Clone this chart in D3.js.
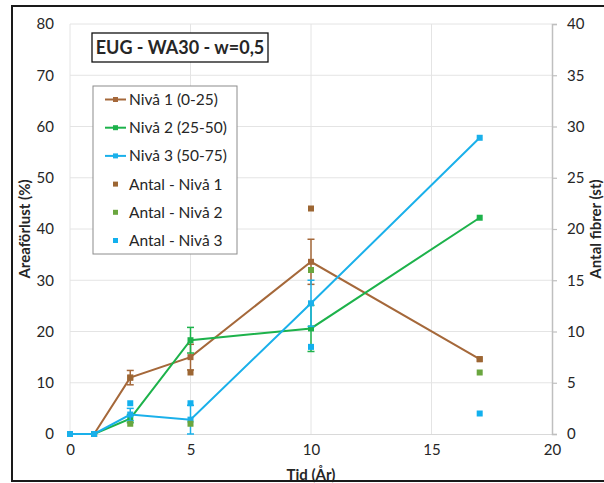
<!DOCTYPE html>
<html>
<head>
<meta charset="utf-8">
<script src="https://cdn.jsdelivr.net/npm/d3@7"></script>
<style>
  body { margin: 0; background: white; }
  text { font-family: Lato, "Liberation Sans", sans-serif; fill: #262626; }
</style>
</head>
<body>
<script>
// data
const years = [0, 1, 2.5, 5, 10, 17]
const niva1 = [0, 0, 11, 15, 33.6, 14.6]
const niva2 = [0, 0, 3, 18.3, 20.6, 42.2]
const niva3 = [0, 0, 3.8, 2.8, 25.5, 57.8]
const err1 = [0, 0, 1.4, 2.5, 4.4, 0]
const err2 = [0, 0, 0.8, 2.5, 4.5, 0]
const err3 = [0, 0, 1.2, 2.8, 4.5, 0]

const antalYears = [2.5, 5, 10, 17]
const antal1 = [5.5, 6, 22, 7.3]
const antal2 = [1, 1, 16, 6]
const antal3 = [3, 3, 8.5, 2]

const xTicks = [0, 5, 10, 15, 20]
const yLeftTicks = [0, 10, 20, 30, 40, 50, 60, 70, 80]
const yRightTicks = [0, 5, 10, 15, 20, 25, 30, 35, 40]

const title = "EUG - WA30 - w=0,5"
const lineNames = ["Nivå 1 (0-25)", "Nivå 2 (25-50)", "Nivå 3 (50-75)"]
const antalNames = ["Antal - Nivå 1", "Antal - Nivå 2", "Antal - Nivå 3"]
const lineColors = ["#a5683a", "#1db24b", "#1ab0ea"]
const antalColors = ["#9c6633", "#6aa63f", "#12b0ee"]

const w = 604
const h = 483
const pLeft = 70, pRight = 552, pTop = 24, pBottom = 434

const xScale = d3.scaleLinear().domain([0, 20]).range([pLeft, pRight])
const yLeft = d3.scaleLinear().domain([0, 80]).range([pBottom, pTop])
const yRight = d3.scaleLinear().domain([0, 40]).range([pBottom, pTop])

const svg = d3.select("body").append("svg")
  .attr("width", w)
  .attr("height", h)

svg.append("rect").attr("width", w).attr("height", h).attr("fill", "white")

// gridlines
svg.append("g").selectAll("line").data(yLeftTicks.slice(1)).enter().append("line")
  .attr("x1", pLeft).attr("x2", pRight)
  .attr("y1", d => yLeft(d)).attr("y2", d => yLeft(d))
  .attr("stroke", "#e4e4e4").attr("stroke-width", 1)
svg.append("g").selectAll("line").data(xTicks.slice(0, -1)).enter().append("line")
  .attr("x1", d => xScale(d)).attr("x2", d => xScale(d))
  .attr("y1", pTop).attr("y2", pBottom)
  .attr("stroke", "#e4e4e4").attr("stroke-width", 1)

// axes
const xAxis = d3.axisBottom(xScale).tickValues(xTicks).tickSize(0).tickPadding(10)
const leftAxis = d3.axisLeft(yLeft).tickValues(yLeftTicks).tickSize(0).tickPadding(16)
const rightAxis = d3.axisRight(yRight).tickValues(yRightTicks).tickSize(5).tickPadding(10)

const gx = svg.append("g").attr("transform", "translate(0," + pBottom + ")").call(xAxis)
gx.select(".domain").attr("stroke", "#d9d9d9").attr("stroke-width", 1.2)
const gl = svg.append("g").attr("transform", "translate(" + pLeft + ",0)").call(leftAxis)
gl.select(".domain").remove()
const gr = svg.append("g").attr("transform", "translate(" + pRight + ",0)").call(rightAxis)
gr.select(".domain").attr("stroke", "#bfbfbf").attr("stroke-width", 1.5)
gr.selectAll(".tick line").attr("stroke", "#bfbfbf").attr("stroke-width", 1.2)
svg.selectAll(".tick text").style("font-size", "15px").attr("fill", "#262626")

// axis titles
svg.append("text")
  .attr("transform", "translate(30," + ((pTop + pBottom) / 2) + ") rotate(-90)")
  .attr("text-anchor", "middle")
  .style("font-size", "15px").style("font-weight", "bold")
  .text("Areaförlust (%)")
svg.append("text")
  .attr("transform", "translate(601," + ((pTop + pBottom) / 2) + ") rotate(-90)")
  .attr("text-anchor", "middle")
  .style("font-size", "15px").style("font-weight", "bold")
  .text("Antal fibrer (st)")
svg.append("text")
  .attr("x", (pLeft + pRight) / 2).attr("y", 480)
  .attr("text-anchor", "middle")
  .style("font-size", "15px").style("font-weight", "bold")
  .text("Tid (År)")

// series
const series = [niva1, niva2, niva3]
const errs = [err1, err2, err3]
const line = d3.line().x(d => xScale(d[0])).y(d => yLeft(d[1]))
const ms = 5

series.forEach((vals, i) => {
  const pts = years.map((y, j) => [y, vals[j], errs[i][j]])
  const g = svg.append("g")
  // error bars
  const eb = g.selectAll(".eb").data(pts.filter(p => p[2] > 0)).enter().append("g")
  eb.append("line")
    .attr("x1", d => xScale(d[0])).attr("x2", d => xScale(d[0]))
    .attr("y1", d => yLeft(d[1] - d[2])).attr("y2", d => yLeft(d[1] + d[2]))
    .attr("stroke", lineColors[i]).attr("stroke-width", 1.5)
  eb.selectAll(".cap").data(d => [d[1] - d[2], d[1] + d[2]].map(v => [d[0], v])).enter().append("line")
    .attr("x1", d => xScale(d[0]) - 3.5).attr("x2", d => xScale(d[0]) + 3.5)
    .attr("y1", d => yLeft(d[1])).attr("y2", d => yLeft(d[1]))
    .attr("stroke", lineColors[i]).attr("stroke-width", 1.5)
  g.append("path").datum(pts).attr("d", line)
    .attr("fill", "none").attr("stroke", lineColors[i]).attr("stroke-width", 2)
  g.selectAll("rect").data(pts).enter().append("rect")
    .attr("x", d => xScale(d[0]) - ms / 2 - 0.5).attr("y", d => yLeft(d[1]) - ms / 2 - 0.5)
    .attr("width", ms + 1).attr("height", ms + 1)
    .attr("fill", lineColors[i])
})

const antal = [antal1, antal2, antal3]
antal.forEach((vals, i) => {
  svg.append("g").selectAll("rect").data(antalYears.map((y, j) => [y, vals[j]])).enter().append("rect")
    .attr("x", d => xScale(d[0]) - ms / 2 - 0.5).attr("y", d => yRight(d[1]) - ms / 2 - 0.5)
    .attr("width", ms + 1).attr("height", ms + 1)
    .attr("fill", antalColors[i])
})

// title box
svg.append("rect").attr("x", 92).attr("y", 33).attr("width", 176).attr("height", 29)
  .attr("fill", "white").attr("stroke", "#111").attr("stroke-width", 1.3)
svg.append("text").attr("x", 180).attr("y", 54).attr("text-anchor", "middle")
  .style("font-size", "18px").style("font-weight", "bold").attr("fill", "#000")
  .text(title)

// legend
svg.append("rect").attr("x", 93).attr("y", 86).attr("width", 144).attr("height", 168)
  .attr("fill", "white").attr("stroke", "#8c8c8c").attr("stroke-width", 1)
const legendItems = lineNames.map((n, i) => ({ name: n, color: lineColors[i], line: true }))
  .concat(antalNames.map((n, i) => ({ name: n, color: antalColors[i], line: false })))
const lg = svg.append("g").selectAll("g").data(legendItems).enter().append("g")
  .attr("transform", (d, i) => "translate(0," + (99.5 + i * 28.2) + ")")
lg.filter(d => d.line).append("line")
  .attr("x1", 105).attr("x2", 126).attr("y1", 0).attr("y2", 0)
  .attr("stroke", d => d.color).attr("stroke-width", 2)
lg.append("rect").attr("x", 113).attr("y", -2.5).attr("width", 5).attr("height", 5)
  .attr("fill", d => d.color)
lg.append("text").attr("x", 129).attr("y", 5.5)
  .style("font-size", "15.5px")
  .text(d => d.name)

// outer frame
svg.append("rect").attr("x", 12).attr("y", 6).attr("width", 620).attr("height", 475)
  .attr("fill", "none").attr("stroke", "#1a1a1a").attr("stroke-width", 2)
</script>
</body>
</html>
